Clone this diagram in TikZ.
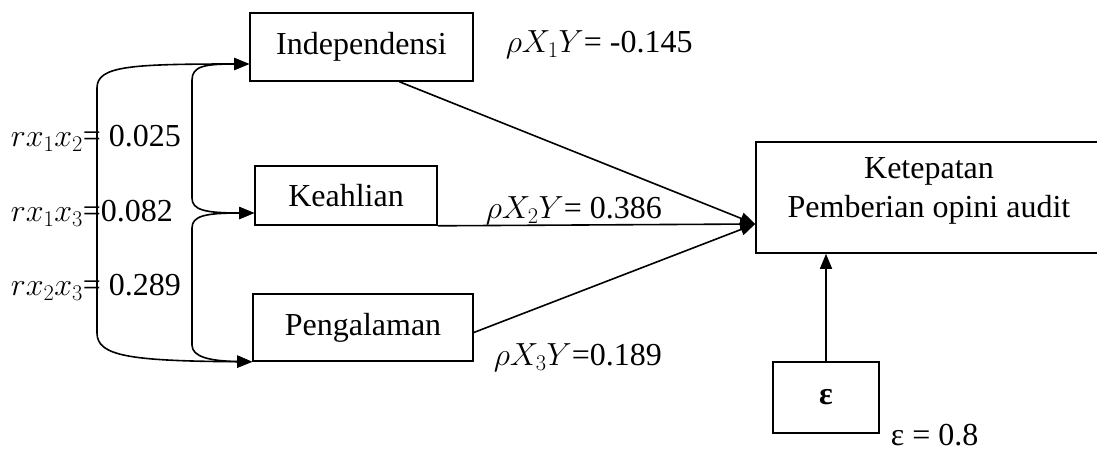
\RequirePackage{fix-cm}
\documentclass[tikz,border=0pt]{standalone}
\usepackage{fontspec}
\setmainfont{Liberation Serif}
\usetikzlibrary{arrows.meta}

\begin{document}
\begin{tikzpicture}[x=1pt,y=-1pt,line width=1.6pt,
        every node/.style={font=\fontsize{32}{39}\selectfont},
        var/.style={draw,inner sep=0pt},
        lbl/.style={anchor=west,inner sep=0pt},
        tip/.style={-{Triangle[length=15pt,width=12pt]}},
        both/.style={{Triangle[length=15pt,width=12pt]}-{Triangle[length=15pt,width=12pt]}}]
            \useasboundingbox (0,0) rectangle (1097,451);
            \node[var,minimum width=223pt,minimum height=68pt] (ind) at (361.5,47) {Independensi};
            \node[var,minimum width=182pt,minimum height=59pt] (keah) at (346,195.5) {Keahlian};
            \node[var,minimum width=220pt,minimum height=67pt] (peng) at (363,327.5) {Pengalaman};
            \node[var,minimum width=346pt,minimum height=111pt,align=center,text depth=19pt] (ket) at (929,197.5) {Ketepatan\\Pemberian opini audit};
            \node[var,minimum width=106pt,minimum height=71pt] (eps) at (826,397.5) {\textbf{ε}};

            \coordinate (i1) at ([yshift=-17pt]ind.west);
            \coordinate (k1) at ([yshift=-17.5pt]keah.west);
            \coordinate (p1) at (peng.south west);
            \coordinate (kin) at ([yshift=-26.5pt]ket.west);

            \draw[both] (i1) .. controls (130,64) and (97,66) .. (97,88) -- (97,333) .. controls (97,356) and (130,361) .. (p1);
            \draw[both] (i1) .. controls (205,64) and (192,66) .. (192,80) -- (192,198) .. controls (192,210) and (205,213) .. (k1);
            \draw[both] (k1) .. controls (205,213) and (192,216) .. (192,228) -- (192,345) .. controls (192,357) and (210,361) .. (p1);

            \draw[tip] ([xshift=38pt]ind.south) -- (kin);
            \draw[tip] (keah.south east) -- (kin);
            \draw[tip] ([yshift=-5pt]peng.east) -- (kin);
            \draw[tip] (eps.north) -- (eps.north |- ket.south);

            \node[lbl] (r12) at (10,138) {$rx_1x_2$= 0.025};
            \node[lbl] (r13) at (10,213) {$rx_1x_3$=0.082};
            \node[lbl] (r23) at (10,287) {$rx_2x_3$= 0.289};
            \node[lbl] (p1y) at (505,45) {$\rho X_1Y$= -0.145};
            \node[lbl] (p2y) at (485,211) {$\rho X_2Y$= 0.386};
            \node[lbl] (p3y) at (493,358) {$\rho X_3Y$=0.189};
            \node[lbl,anchor=base west] (epsv) at (890,445) {ε = 0.8};
        \end{tikzpicture}
\end{document}
